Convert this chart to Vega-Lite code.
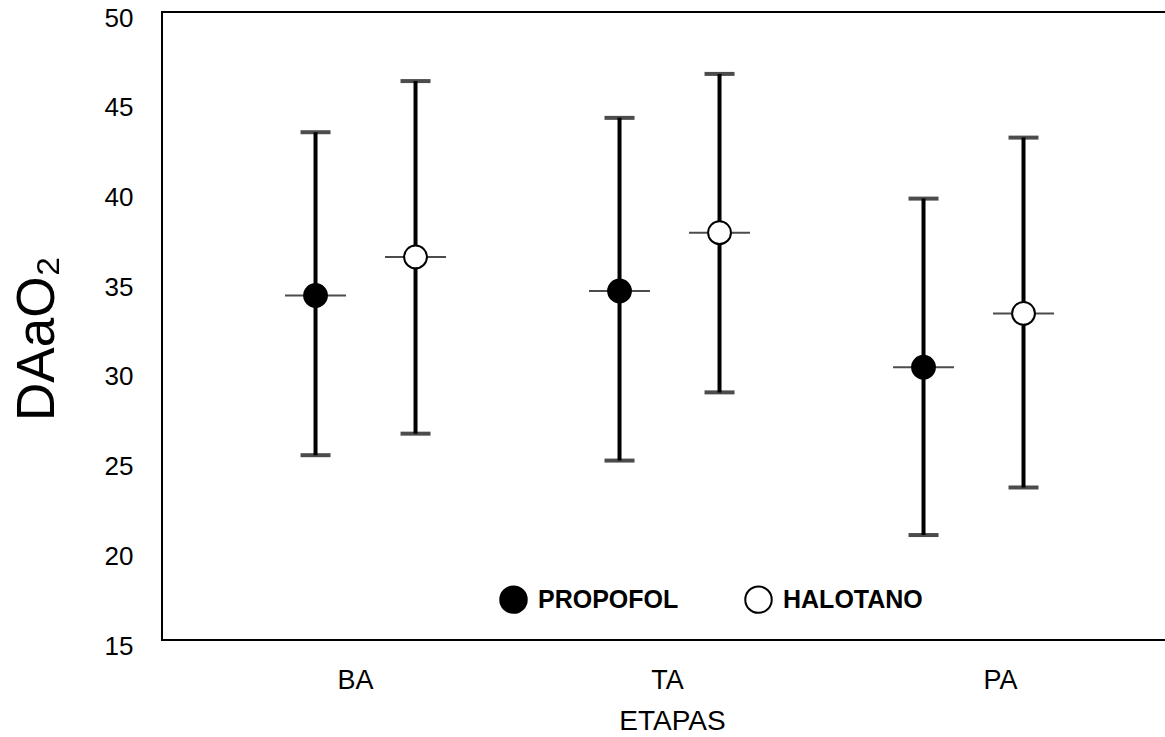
{
  "$schema": "https://vega.github.io/schema/vega-lite/v6.json",
  "autosize": "none",
  "padding": {"left": 162, "top": 12, "right": 0, "bottom": 97},
  "width": 1005,
  "height": 628,
  "config": {
    "view": {"stroke": "black", "strokeWidth": 2},
    "font": "Liberation Sans",
    "axis": {"labelColor": "black", "titleColor": "black", "labelFont": "Liberation Sans", "titleFont": "Liberation Sans"}
  },
  "data": {
    "values": [
      {"etapa": "BA", "grupo": "PROPOFOL", "media": 34.2, "lo": 25.3, "hi": 43.3},
      {"etapa": "BA", "grupo": "HALOTANO", "media": 36.35, "lo": 26.5, "hi": 46.15},
      {"etapa": "TA", "grupo": "PROPOFOL", "media": 34.45, "lo": 25.0, "hi": 44.1},
      {"etapa": "TA", "grupo": "HALOTANO", "media": 37.7, "lo": 28.8, "hi": 46.55},
      {"etapa": "PA", "grupo": "PROPOFOL", "media": 30.2, "lo": 20.85, "hi": 39.6},
      {"etapa": "PA", "grupo": "HALOTANO", "media": 33.2, "lo": 23.5, "hi": 43.0}
    ]
  },
  "encoding": {
    "x": {
      "field": "etapa", "type": "nominal",
      "scale": {"domain": ["BA", "TA", "PA"], "paddingInner": 0, "paddingOuter": 0.153, "align": 0.554},
      "axis": {
        "title": "ETAPAS", "labelAngle": 0, "domain": false, "ticks": false, "tickSize": 0,
        "labelFontSize": 27, "labelPadding": 27,
        "labelOffset": {"condition": [{"test": "datum.value === 'BA'", "value": -10}, {"test": "datum.value === 'PA'", "value": 27}], "value": -2},
        "titleFontSize": 28, "titleFontWeight": "normal", "titlePadding": 14, "titleX": 510
      }
    },
    "xOffset": {
      "field": "grupo", "type": "nominal",
      "scale": {"domain": ["PROPOFOL", "HALOTANO"], "paddingInner": 0, "paddingOuter": 0.52}
    }
  },
  "layer": [
    {
      "mark": {"type": "rule", "color": "black", "strokeWidth": 4},
      "encoding": {
        "y": {"field": "lo", "type": "quantitative", "scale": {"domain": [15, 50], "nice": false, "zero": false},
          "axis": {
            "title": "DAaO₂", "values": [15, 20, 25, 30, 35, 40, 45, 50], "grid": false, "domain": false, "ticks": false, "tickSize": 0,
            "labelFontSize": 26, "labelPadding": 29, "labelOffset": 6,
            "titleFontSize": 53, "titleFontWeight": "normal", "titleX": -109, "titleY": 326, "titleBaseline": "alphabetic", "titleAngle": 270
          }},
        "y2": {"field": "hi"}
      }
    },
    {
      "mark": {"type": "tick", "color": "black", "size": 30, "thickness": 4, "orient": "horizontal"},
      "encoding": {"y": {"field": "lo", "type": "quantitative"}}
    },
    {
      "mark": {"type": "tick", "color": "black", "size": 30, "thickness": 4, "orient": "horizontal"},
      "encoding": {"y": {"field": "hi", "type": "quantitative"}}
    },
    {
      "mark": {"type": "tick", "color": "black", "size": 61, "thickness": 2, "orient": "horizontal"},
      "encoding": {"y": {"field": "media", "type": "quantitative"}}
    },
    {
      "mark": {"type": "point", "shape": "circle", "filled": true, "stroke": "black", "strokeWidth": 2, "size": 520, "opacity": 1},
      "encoding": {
        "y": {"field": "media", "type": "quantitative"},
        "fill": {
          "field": "grupo", "type": "nominal",
          "scale": {"domain": ["PROPOFOL", "HALOTANO"], "range": ["black", "white"]},
          "legend": {
            "title": null, "orient": "none", "direction": "horizontal", "legendX": 337, "legendY": 573,
            "symbolType": "circle", "symbolSize": 700, "symbolStrokeColor": "black", "symbolStrokeWidth": 2, "symbolOpacity": 1,
            "labelFont": "Liberation Sans", "labelFontSize": 25, "labelFontWeight": "bold", "labelColor": "black",
            "labelOffset": 10, "columnPadding": 62, "padding": 0
          }
        }
      }
    }
  ]
}
